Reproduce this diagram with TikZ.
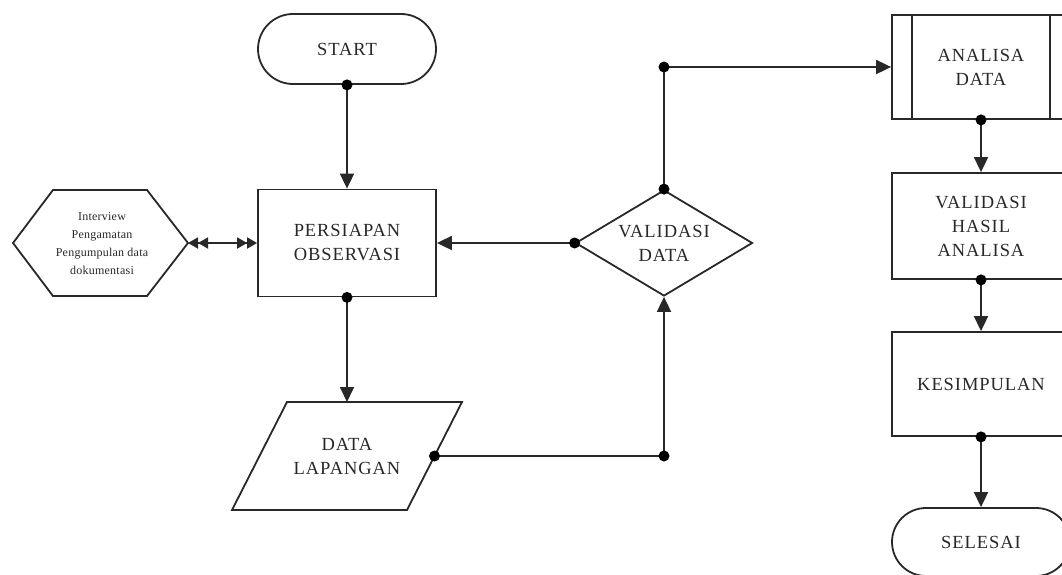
\documentclass[tikz,border=0pt]{standalone}
\usepackage{fontspec}
\setmainfont{Liberation Serif}
\newfontfamily\lblfont{Liberation Serif}[LetterSpace=5]
\newfontfamily\smallfont{Liberation Serif}[LetterSpace=2]
\usetikzlibrary{arrows.meta,shapes.geometric,shapes.misc}
\definecolor{ink}{RGB}{40,40,40}
\begin{document}
\begin{tikzpicture}[x=1pt,y=-1pt, color=ink, line width=1.8pt,
  lbl/.style={font=\lblfont\fontsize{18.5}{24}\selectfont, align=center},
  procbox/.style={draw, rectangle, lbl, minimum width=178pt, inner sep=0pt},
  pill/.style={draw, rounded rectangle, lbl, minimum width=178pt, inner sep=0pt},
  dia/.style={draw, diamond, lbl, aspect=1.67, inner sep=0pt, minimum width=177pt, minimum height=106pt},
  dotn/.style={circle, fill=black, draw=none, inner sep=0pt, minimum size=11pt},
  arr/.style={-{Triangle[length=15pt,width=14pt]}},
  dbl/.style={{Triangle[length=10pt,width=11pt]Triangle[length=10pt,width=11pt]}-{Triangle[length=10pt,width=11pt]Triangle[length=10pt,width=11pt]}}
]
\useasboundingbox (0,0) rectangle (1062,575);
\clip (0,0) rectangle (1062,575);

% left column
\node[pill, minimum height=70pt] (start) at (347,49) {START};
\node[procbox, minimum height=107pt] (pers) at (347,243) {PERSIAPAN\\OBSERVASI};
% parallelogram
\coordinate (pTL) at (287,402);
\coordinate (pTR) at (462,402);
\coordinate (pBR) at (407,510);
\coordinate (pBL) at (232,510);
\draw (pTL) -- (pTR) -- (pBR) -- (pBL) -- cycle;
\node[lbl] (data) at (347,456) {DATA\\LAPANGAN};
\coordinate (dataT) at (347,402);
\coordinate (dataR) at (434.5,456);

% hexagon
\coordinate (h1) at (13,243);
\coordinate (h2) at (53,190);
\coordinate (h3) at (147,190);
\coordinate (hexR) at (188,243);
\coordinate (h5) at (147,296);
\coordinate (h6) at (53,296);
\draw (h1) -- (h2) -- (h3) -- (hexR) -- (h5) -- (h6) -- cycle;
\node[font=\smallfont\fontsize{12}{18}\selectfont, align=center] (hex) at (102,244)
  {Interview\\Pengamatan\\Pengumpulan data\\dokumentasi};

% diamond
\node[dia] (val) at (664,243) {VALIDASI\\DATA};

% right column
\node[procbox, minimum height=104pt] (ana) at (981,67) {ANALISA\\DATA};
\draw ([xshift=21pt]ana.north west) -- ([xshift=21pt]ana.south west);
\draw ([xshift=-21pt]ana.north east) -- ([xshift=-21pt]ana.south east);
\node[procbox, minimum height=106pt] (vha) at (981,226) {VALIDASI\\HASIL\\ANALISA};
\node[procbox, minimum height=104pt] (kes) at (981,384) {KESIMPULAN};
\node[pill, minimum height=68pt] (sel) at (981,542) {SELESAI};

% corner coordinates
\coordinate (c1) at (664,456);
\coordinate (c2) at (664,67);

% connectors
\draw[arr] (start.south) -- (pers.north);
\draw[arr] (pers.south) -- (dataT);
\draw (dataR) -- (c1);
\draw[arr] (c1) -- (val.south);
\draw[arr] (val.west) -- (pers.east);
\draw (val.north) -- (c2);
\draw[arr] (c2) -- (ana.west);
\draw[arr] (ana.south) -- (vha.north);
\draw[arr] (vha.south) -- (kes.north);
\draw[arr] (kes.south) -- (sel.north);
\draw[dbl] (hexR) -- (pers.west);

% dots
\node[dotn] (d1) at (start.south) {};
\node[dotn] (d2) at (pers.south) {};
\node[dotn] (d3) at (dataR) {};
\node[dotn] (d4) at (c1) {};
\node[dotn] (d5) at (val.west) {};
\node[dotn] (d6) at (val.north) {};
\node[dotn] (d7) at (c2) {};
\node[dotn] (d8) at (ana.south) {};
\node[dotn] (d9) at (vha.south) {};
\node[dotn] (d10) at (kes.south) {};
\end{tikzpicture}
\end{document}
